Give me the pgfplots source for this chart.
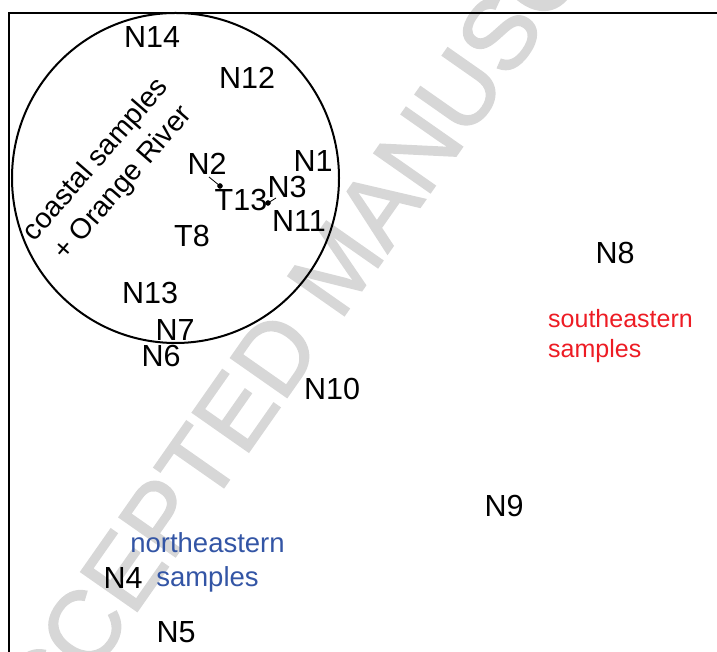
\documentclass[border=0pt]{standalone}
\usepackage{pgfplots}
\usepackage{pgfplotstable}
\pgfplotsset{compat=1.18}
\usepackage{fontspec}
\setmainfont{Liberation Sans}
\newfontfamily\wmfont[FakeBold=1.6]{Liberation Sans}
\definecolor{wmgray}{RGB}{215,215,215}
\definecolor{sered}{RGB}{237,28,36}
\definecolor{neblue}{RGB}{51,85,165}
\pgfplotstableread{
x y label
313 491 N1
207 488 N2
287 465 N3
123 74 N4
176 20 N5
161 296 N6
175 322 N7
615 399 N8
504 146 N9
332 263 N10
299 431 N11
247 574 N12
150 359 N13
152 615 N14
192 416 T8
241 452 T13
}\labels
\begin{document}
\begin{tikzpicture}
\path[use as bounding box] (0,0) rectangle (717pt,652pt);
\clip (0,0) rectangle (717pt,652pt);
\begin{axis}[
  at={(0,0)}, anchor=south west,
  width=717pt, height=652pt, scale only axis,
  xmin=0, xmax=717, ymin=0, ymax=652,
  hide axis, clip=false,
]
% watermark
\node[rotate=55, text=wmgray, inner sep=0pt, font=\wmfont\fontsize{100}{110}\selectfont] at (axis cs:337,386) {ACCEPTED MANUSCRIPT};
% frame
\addplot[black, line width=1.3pt] coordinates {(9,-5) (9,639) (722,639)};
% grouping circle
\draw[black, line width=2pt] (axis cs:175.5,474) ellipse [x radius=163.5, y radius=165];
% sample labels
\addplot[draw=none, mark=none, nodes near coords, point meta=explicit symbolic,
  nodes near coords align=center,
  every node near coord/.append style={anchor=center, inner sep=0pt, text=black, font=\fontsize{30.5}{36}\selectfont}]
  table[x=x, y=y, meta=label] {\labels};
% leader lines and points
\addplot[black, line width=0.8pt] coordinates {(209,475) (220,466)};
\addplot[black, line width=0.8pt] coordinates {(268,449) (276,454)};
\addplot[only marks, mark=*, mark size=2.5pt, black] coordinates {(220,466) (268,449)};
% group annotations
\node[rotate=49, align=center, inner sep=0pt, font=\fontsize{28.5}{36}\selectfont] at (axis cs:110,480) {coastal samples\\+ Orange River};
\node[anchor=base west, inner sep=0pt, text=sered, font=\fontsize{25}{30}\selectfont] at (axis cs:548,324) {southeastern};
\node[anchor=base west, inner sep=0pt, text=sered, font=\fontsize{25}{30}\selectfont] at (axis cs:548,294) {samples};
\node[anchor=base, inner sep=0pt, text=neblue, font=\fontsize{27.5}{33}\selectfont] at (axis cs:207.5,99) {northeastern};
\node[anchor=base, inner sep=0pt, text=neblue, font=\fontsize{27.5}{33}\selectfont] at (axis cs:207.5,65) {samples};
\end{axis}
\end{tikzpicture}
\end{document}
